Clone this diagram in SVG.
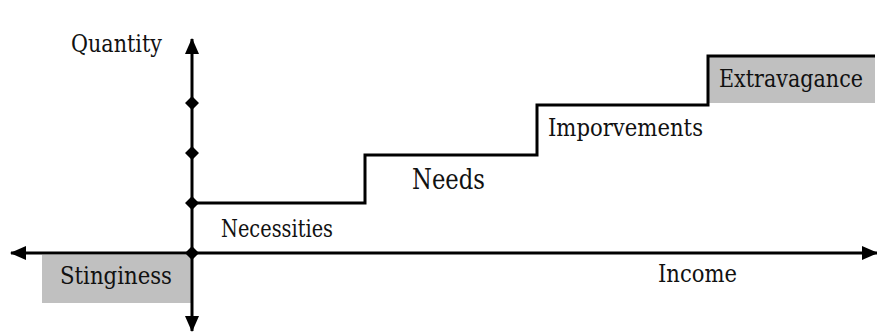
<svg xmlns="http://www.w3.org/2000/svg" width="877" height="333" viewBox="0 0 877 333">
<style>
.t{font-family:'DejaVu Serif',serif;font-size:25px;fill:#111}
.ln{stroke:#000;stroke-width:3;fill:none}
.box{fill:#c0c0c0}
</style>
<defs>
<marker id="ah" viewBox="0 0 16 14" refX="15" refY="7" markerWidth="16" markerHeight="14" orient="auto" markerUnits="userSpaceOnUse">
<path d="M0,0 L16,7 L0,14 z" fill="#000"/>
</marker>
</defs>
<rect width="877" height="333" fill="#fff"/>
<g id="stinginess">
<rect class="box" x="42" y="255" width="150" height="48"/>
<text class="t" x="60" y="284" textLength="112" lengthAdjust="spacingAndGlyphs">Stinginess</text>
</g>
<g id="extravagance">
<rect class="box" x="709" y="57" width="166" height="46"/>
<text class="t" transform="matrix(0.8,0,0,1,719,87)" x="0" y="0" textLength="180" lengthAdjust="spacingAndGlyphs">Extravagance</text>
</g>
<g id="connectors">
<line class="ln" x1="192" y1="253" x2="11" y2="253" marker-end="url(#ah)"/>
<line class="ln" x1="192" y1="253" x2="877" y2="253" marker-end="url(#ah)"/>
<line class="ln" x1="192" y1="253" x2="192" y2="39" marker-end="url(#ah)"/>
<line class="ln" x1="192" y1="253" x2="192" y2="331" marker-end="url(#ah)"/>
<path class="ln" d="M192,203 H365 V155 H537 V105 H708 V56 H875"/>
<path d="M192,96 l7,7 l-7,7 l-7,-7 z M192,146 l7,7 l-7,7 l-7,-7 z M192,196 l7,7 l-7,7 l-7,-7 z M192,246 l7,7 l-7,7 l-7,-7 z" fill="#000"/>
</g>
<g id="quantity"><text class="t" x="71" y="52" textLength="91" lengthAdjust="spacingAndGlyphs">Quantity</text></g>
<g id="necessities"><text class="t" x="221" y="237" textLength="112" lengthAdjust="spacingAndGlyphs">Necessities</text></g>
<g id="needs"><text class="t" x="412" y="189" style="font-size:27px" textLength="73" lengthAdjust="spacingAndGlyphs">Needs</text></g>
<g id="improvements"><text class="t" x="548" y="136" textLength="155" lengthAdjust="spacingAndGlyphs">Imporvements</text></g>
<g id="income"><text class="t" x="658" y="282" textLength="79" lengthAdjust="spacingAndGlyphs">Income</text></g>
</svg>
